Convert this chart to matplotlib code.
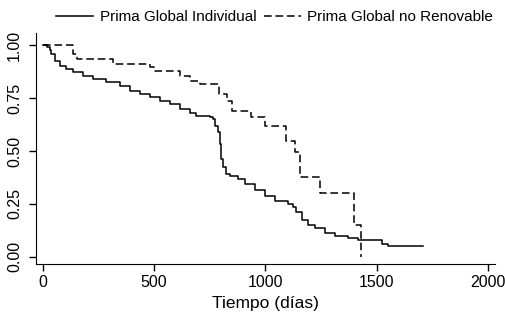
import numpy as np
import matplotlib
matplotlib.use("Agg")
import matplotlib.pyplot as plt

plt.rcParams['font.family'] = ['Liberation Sans', 'DejaVu Sans']

# Prima Global Individual (Kaplan-Meier)
t_ind = [0, 17, 31, 39, 54, 76, 106, 136, 181, 226, 286, 346, 391, 436,
         480, 525, 570, 615, 660, 690, 750, 765, 772, 787, 795, 802, 809,
         824, 840, 877, 907, 952, 997, 1042, 1101, 1124, 1139, 1162, 1191,
         1221, 1266, 1311, 1371, 1416, 1506, 1521, 1551, 1708]
s_ind = [1.0, 0.99, 0.975, 0.957, 0.926, 0.902, 0.887, 0.871, 0.855, 0.84,
         0.824, 0.808, 0.785, 0.769, 0.753, 0.737, 0.722, 0.698, 0.678,
         0.667, 0.662, 0.651, 0.62, 0.59, 0.534, 0.463, 0.424, 0.392, 0.384,
         0.369, 0.345, 0.314, 0.286, 0.264, 0.248, 0.235, 0.212, 0.173,
         0.149, 0.134, 0.113, 0.097, 0.087, 0.079, 0.079, 0.063, 0.052,
         0.052]

# Prima Global no Renovable
t_nr = [0, 136, 155, 315, 480, 500, 615, 660, 705, 790, 825, 850, 937,
        997, 1094, 1132, 1154, 1244, 1398, 1428]
s_nr = [1.0, 0.96, 0.934, 0.91, 0.895, 0.879, 0.855, 0.831, 0.816, 0.77,
        0.737, 0.69, 0.659, 0.62, 0.549, 0.494, 0.376, 0.301, 0.149, 0.0]

xticks = [0, 500, 1000, 1500, 2000]
yticks = [0.0, 0.25, 0.5, 0.75, 1.0]
ylabels = ['0.00', '0.25', '0.50', '0.75', '1.00']


def main():
    fig = plt.figure(figsize=(5.05, 3.24), dpi=100)
    ax = fig.add_axes([0.071, 0.185, 0.909, 0.713])

    l1, = ax.step(t_ind, s_ind, where='post', color='black', lw=1.1)
    l2, = ax.step(t_nr, s_nr, where='post', color='black', lw=1.1,
                  linestyle=(0, (5, 2.5)))

    ax.set_xlim(-31, 2030)
    ax.set_ylim(-0.034, 1.057)
    ax.set_xticks(xticks)
    ax.set_yticks(yticks)
    ax.set_yticklabels(ylabels, rotation=90, va='center')
    ax.tick_params(direction='out', length=5, width=1, labelsize=11.5,
                   colors='black', pad=3)
    ax.tick_params(axis='y', pad=5)
    ax.spines['top'].set_visible(False)
    ax.spines['right'].set_visible(False)
    ax.set_xlabel('Tiempo (días)', fontsize=12.5, labelpad=4)

    fig.legend([l1, l2], ['Prima Global Individual', 'Prima Global no Renovable'],
               loc='center', bbox_to_anchor=(0.544, 0.948), ncol=2,
               frameon=False, fontsize=11, handlelength=2.4,
               columnspacing=0.5, handletextpad=0.45)

    fig.savefig('out.png', dpi=100)


if __name__ == "__main__":
    main()
